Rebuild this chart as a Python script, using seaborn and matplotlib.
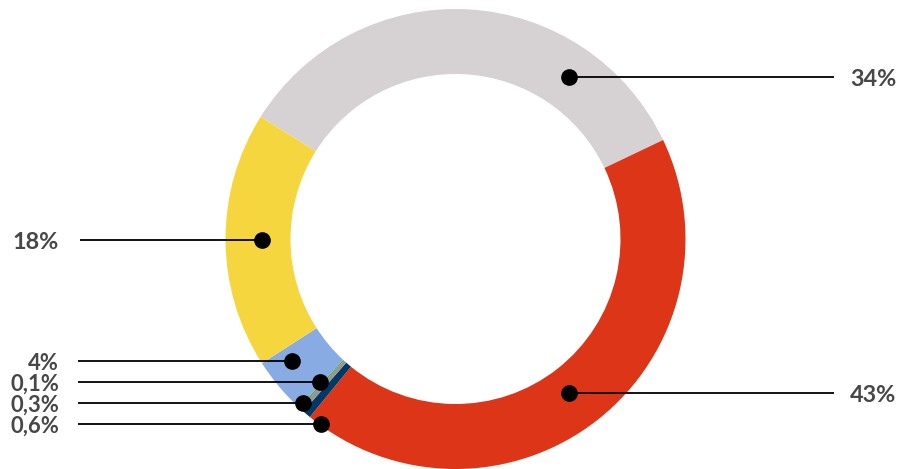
import matplotlib
matplotlib.use("Agg")
import matplotlib.pyplot as plt
import seaborn as sns

# Shares of each category (percent), in clockwise order
categories = ["Gris", "Rouge", "Bleu marine", "Gris foncé", "Vert", "Bleu clair", "Jaune"]
shares = [34, 43, 0.6, 0.3, 0.1, 4, 18]
labels = ["34%", "43%", "0,6%", "0,3%", "0,1%", "4%", "18%"]
colors = ["#D6D2D3", "#DC3518", "#003866", "#9A9495", "#3FA83C", "#88ABE3", "#F6D63E"]

sns.set_theme(style="white")
plt.rcParams["font.family"] = ["Lato", "DejaVu Sans"]

W, H = 899, 469
fig = plt.figure(figsize=(W / 100, H / 100), dpi=100)
ax = fig.add_axes([0, 0, 1, 1])

cx, cy, r_out, ring = 455.5, H - 239, 230, 65
ax.pie(shares, colors=colors, startangle=147.9, counterclock=False,
       center=(cx, cy), radius=r_out,
       wedgeprops=dict(width=ring, linewidth=0))

ax.set_xlim(0, W)
ax.set_ylim(0, H)
ax.set_aspect("equal")
ax.set_axis_off()

# Callouts: marker point on the ring, leader end, label side (pixel coords, y down)
callouts = {
    "34%":  dict(dot=(569, 77),  end=834, side="right", size=16.8),
    "43%":  dict(dot=(569, 393), end=834, side="right", size=16.8),
    "18%":  dict(dot=(262, 240), end=80,  side="left",  size=16.8),
    "4%":   dict(dot=(292, 361), end=78,  side="left",  size=15.8),
    "0,1%": dict(dot=(320, 382), end=78,  side="left",  size=15.8),
    "0,3%": dict(dot=(303, 403), end=78,  side="left",  size=15.8),
    "0,6%": dict(dot=(321, 424), end=78,  side="left",  size=15.8),
}

text_color = "#474747"
for lab in labels:
    c = callouts[lab]
    x, y = c["dot"]
    yd = H - y
    ax.plot([c["end"], x], [yd, yd], color="black", lw=1.3, solid_capstyle="butt", zorder=3)
    ax.plot([x], [yd], "o", color="black", markersize=11, zorder=4)
    if c["side"] == "right":
        ax.text(850, yd, lab, ha="left", va="center_baseline", fontsize=c["size"],
                fontweight="bold", color=text_color)
    else:
        ax.text(59, yd, lab, ha="right", va="center_baseline",
                fontsize=c["size"], fontweight="bold", color=text_color)

fig.savefig("out.png", dpi=100)
